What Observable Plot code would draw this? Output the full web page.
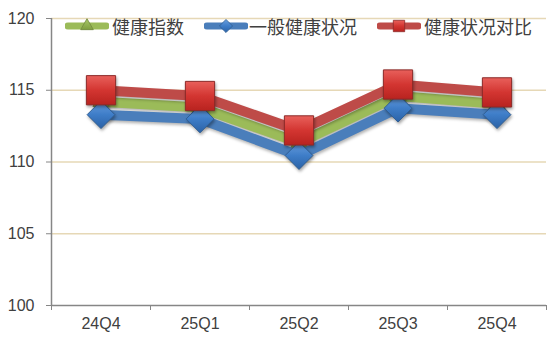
<!DOCTYPE html>
<html><head><meta charset="utf-8">
<script src="https://cdn.jsdelivr.net/npm/d3@7"></script>
<script src="https://cdn.jsdelivr.net/npm/@observablehq/plot@0.6"></script>
<style>
body{margin:0;background:#fff}
#chart{position:relative;width:560px;height:359px;font-family:"Liberation Sans","Noto Sans CJK SC",sans-serif}
#legend{position:absolute;left:65px;top:13px;height:26px;display:flex;align-items:center;font-family:"Noto Sans CJK SC",sans-serif;font-size:18px;color:#404040;white-space:nowrap}
#legend .item{display:flex;align-items:center}
#legend svg{display:block}
</style>
</head><body>
<svg width="0" height="0" style="position:absolute">
  <defs>
    <linearGradient id="gRed" x1="0" y1="0" x2="0" y2="1">
      <stop offset="0" stop-color="#E8605B"/>
      <stop offset="0.5" stop-color="#D33531"/>
      <stop offset="1" stop-color="#B8231F"/>
    </linearGradient>
    <linearGradient id="gBlue" x1="0" y1="0" x2="0" y2="1">
      <stop offset="0" stop-color="#6A9FDE"/>
      <stop offset="0.5" stop-color="#3E7DC8"/>
      <stop offset="1" stop-color="#2B62A6"/>
    </linearGradient>
    <linearGradient id="gGreen" x1="0" y1="0" x2="0" y2="1">
      <stop offset="0" stop-color="#A9C96A"/>
      <stop offset="1" stop-color="#7E9E3F"/>
    </linearGradient>
  </defs>
</svg>
<div id="chart"><div id="legend"></div></div>
<script>
const categories = ["24Q4", "25Q1", "25Q2", "25Q3", "25Q4"];
const seriesNames = ["健康指数", "一般健康状况", "健康状况对比"];
const healthIndex = [114.2, 113.8, 111.35, 114.6, 114.05];
const generalHealth = [113.3, 113.0, 110.45, 113.75, 113.3];
const healthCompare = [115.0, 114.6, 112.2, 115.4, 114.85];
const yTicks = [100, 105, 110, 115, 120];

const lineColors = ["#9BBB59", "#4A7EBB", "#BE4B48"];
const markerFills = ["url(#gGreen)", "url(#gBlue)", "url(#gRed)"];
const markerStrokes = ["#71893F", "#2F5E93", "#8C2A28"];
const symbols = ["triangle", "diamond2", "square"];
const markerR = [6, 12.5, 16.5];
const seriesValues = [healthIndex, generalHealth, healthCompare];

const idx = categories.map((_, i) => i);
const edges = [-0.5, ...idx.map(i => i + 0.5)];

const marks = [
  Plot.ruleY(yTicks.filter(v => v > 100), {stroke: "#E6D8B6", strokeWidth: 1.5}),
  Plot.axisY(yTicks, {tickSize: 5, tickPadding: 12, stroke: "#868686", fill: "#404040", fontSize: 16, tickFormat: d => String(d)}),
  Plot.axisX(edges, {tickSize: 5, stroke: "#868686", tickFormat: () => ""}),
  Plot.axisX(idx, {tickSize: 0, tickPadding: 12, fill: "#404040", fontSize: 16, tickFormat: i => categories[i]}),
  Plot.ruleX([-0.5], {stroke: "#868686", strokeWidth: 1.5}),
  Plot.ruleY([100], {stroke: "#868686", strokeWidth: 1.5})
];
seriesValues.forEach((vals, s) => {
  marks.push(Plot.lineY(vals, {x: (d, i) => i, y: d => d, stroke: lineColors[s], strokeWidth: 10, strokeLinejoin: "round", strokeLinecap: "butt"}));
  marks.push(Plot.dot(vals, {x: (d, i) => i, y: d => d, symbol: symbols[s], r: markerR[s], fill: markerFills[s], stroke: markerStrokes[s], strokeWidth: 1}));
});

const plot = Plot.plot({
  width: 560,
  height: 359,
  marginLeft: 51,
  marginRight: 14,
  marginTop: 18,
  marginBottom: 54,
  style: {fontFamily: '"Liberation Sans","Noto Sans CJK SC",sans-serif', fontSize: "16px", color: "#404040", background: "#fff"},
  x: {type: "linear", domain: [-0.5, categories.length - 0.5], axis: null},
  y: {domain: [100, 120], axis: null},
  marks
});
plot.querySelectorAll('g[aria-label="line"] path').forEach(p => p.style.filter = "drop-shadow(1px 2px 1.5px rgba(0,0,0,0.3))");
plot.querySelectorAll('g[aria-label="dot"] path').forEach(p => p.style.filter = "drop-shadow(1px 2px 1.5px rgba(0,0,0,0.35))");
document.getElementById("chart").prepend(plot);

// legend
const legend = d3.select("#legend");
const symGen = [d3.symbolTriangle, d3.symbolDiamond2, d3.symbolSquare];
const symSize = [70, 110, 130];
const gaps = [20, 0, 20];
seriesNames.forEach((name, s) => {
  const item = legend.append("div").attr("class", "item").style("margin-right", s < 2 ? "20px" : "0");
  const sw = item.append("svg").attr("width", 44).attr("height", 20);
  sw.append("line").attr("x1", 3).attr("x2", 41).attr("y1", 10).attr("y2", 10)
    .attr("stroke", lineColors[s]).attr("stroke-width", 7).attr("stroke-linecap", "round");
  sw.append("path").attr("transform", "translate(22,10)")
    .attr("d", d3.symbol(symGen[s], symSize[s])())
    .attr("fill", markerFills[s]).attr("stroke", markerStrokes[s]).attr("stroke-width", 0.8);
  item.append("span").text(name).style("margin-left", s === 1 ? "1px" : "3px");
});
</script>
</body></html>
